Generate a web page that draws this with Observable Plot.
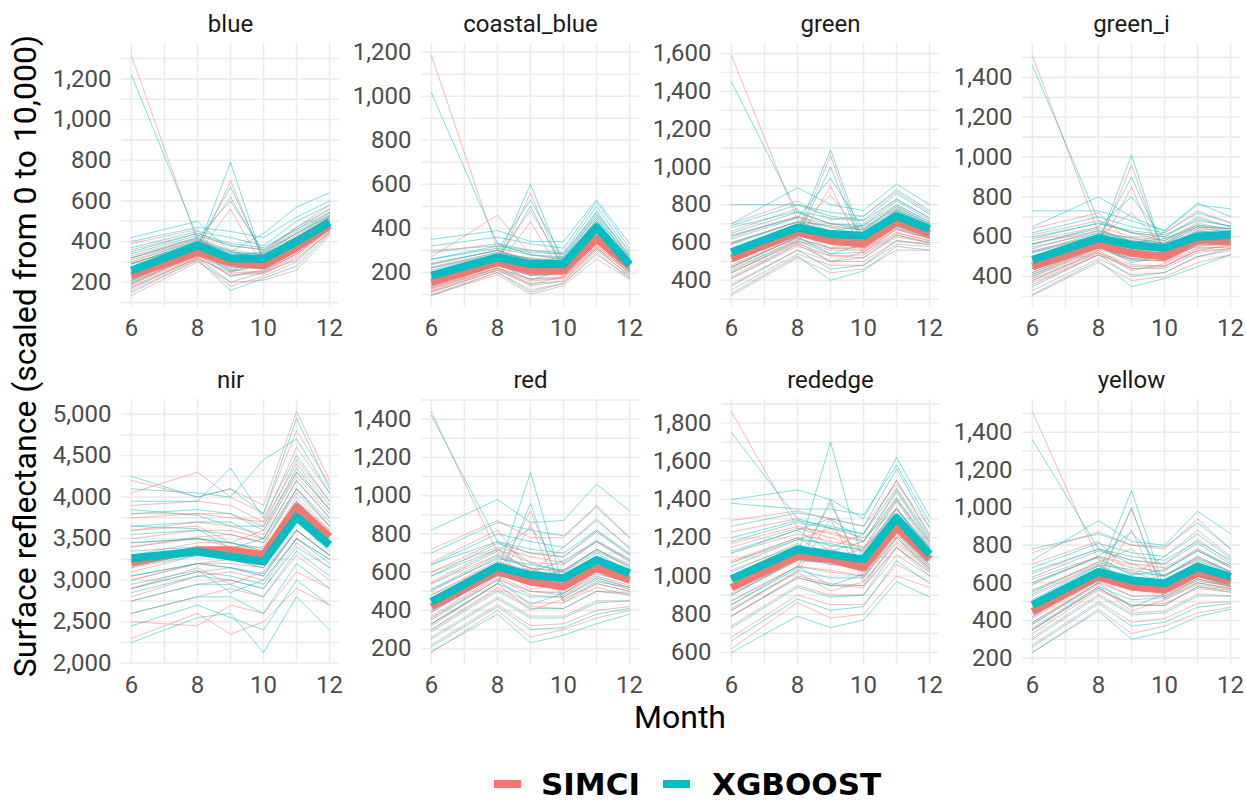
<!DOCTYPE html>
<html>
<head>
<meta charset="utf-8">
<script src="https://cdn.jsdelivr.net/npm/d3@7"></script>
<script src="https://cdn.jsdelivr.net/npm/@observablehq/plot@0.6"></script>
<style>
  body { margin: 0; background: #ffffff; }
  #wrap { position: relative; width: 1246px; height: 800px; overflow: hidden; font-family: Roboto, sans-serif; background: #ffffff; }
  #ytitle { position: absolute; left: 25px; top: 356px; transform: translate(-50%, -50%) rotate(-90deg); white-space: nowrap; font-size: 32px; line-height: 1; color: #000; }
  #xtitle { position: absolute; left: 680px; top: 717px; transform: translate(-50%, -50%); white-space: nowrap; font-size: 32px; line-height: 1; color: #000; }
  .sw { position: absolute; height: 8px; width: 27px; top: 780px; }
  .lg { position: absolute; top: 784px; transform: translateY(-50%); font-family: "DejaVu Sans", sans-serif; font-weight: bold; font-size: 31px; line-height: 1; color: #000; white-space: nowrap; }
</style>
</head>
<body>
<div id="wrap"></div>
<script>
// ---------------- data ----------------
const months = [6, 8, 9, 10, 11, 12];
const models = ["SIMCI", "XGBOOST"];
const modelColors = ["#F8766D", "#00BFC4"];
const bands = ["blue", "coastal_blue", "green", "green_i", "nir", "red", "rededge", "yellow"];

// blue
const blueMeanSIMCI = [233, 348, 297, 282, 370, 480];
const blueMeanXGB   = [258, 381, 318, 315, 400, 495];
const bluePixSIMCI = [
  [1315,400,330,300,390,500],[135,300,200,210,260,430],[160,310,180,230,300,450],[180,320,240,240,320,440],
  [200,330,260,250,340,460],[210,340,560,270,350,470],[220,350,290,280,360,470],[230,345,700,300,380,490],
  [240,360,310,290,380,480],[250,370,280,300,400,500],[270,380,320,310,410,510],[290,390,620,330,420,520],
  [310,400,350,320,430,530],[330,420,300,340,440,540],[360,440,380,360,460,560],[390,460,250,350,470,580],
  [175,315,250,245,330,455],[205,330,275,265,350,465],[265,365,330,300,390,495],[295,385,300,320,410,505],
  [190,325,230,255,340,460],[320,405,360,335,425,520]
];
const bluePixXGB = [
  [1220,420,350,320,420,520],[150,310,160,220,280,440],[170,320,200,250,310,450],[190,340,230,260,340,460],
  [210,350,260,280,360,470],[230,360,790,300,380,490],[250,370,290,300,390,490],[260,380,670,320,400,500],
  [270,390,330,320,410,510],[290,400,300,330,420,520],[300,410,340,340,440,530],[320,420,600,350,450,540],
  [340,430,380,360,470,560],[370,450,420,380,500,580],[400,470,450,420,520,600],[420,500,350,440,570,640],
  [195,345,270,280,360,470],[225,360,295,300,380,485],[290,400,350,335,420,510],[320,415,330,350,440,525],
  [210,350,250,290,370,475],[350,440,390,370,460,545]
];

// coastal_blue
const coastalMeanSIMCI = [155, 245, 208, 208, 352, 230];
const coastalMeanXGB   = [185, 268, 238, 238, 405, 235];
const coastalPixSIMCI = [
  [1185,300,250,230,380,240],[95,190,100,140,260,170],[100,200,120,150,280,180],[110,210,150,160,300,190],
  [120,220,170,170,310,200],[130,230,430,180,320,210],[140,235,190,190,330,215],[150,240,560,200,340,220],
  [160,250,210,210,350,230],[170,255,200,215,360,235],[180,260,230,220,370,240],[200,270,480,230,390,250],
  [220,280,240,240,400,260],[240,300,260,250,420,270],[270,460,280,260,440,280],[300,320,300,280,460,300],
  [115,215,160,175,310,200],[135,230,185,190,330,215],[175,260,235,225,375,245],[200,275,215,240,395,255],
  [125,220,145,180,320,205],[225,290,260,250,410,265]
];
const coastalPixXGB = [
  [1015,330,280,260,430,250],[95,200,110,150,290,170],[110,210,140,160,310,180],[130,220,170,180,340,190],
  [150,240,190,200,360,210],[160,250,500,210,380,220],[170,255,220,220,390,225],[180,260,600,230,400,230],
  [190,270,240,235,410,235],[200,280,230,240,420,240],[220,290,260,250,440,250],[240,300,530,260,460,260],
  [260,310,280,270,480,270],[290,330,300,290,500,290],[320,360,330,310,520,310],[350,390,340,340,530,330],
  [140,235,185,200,360,205],[165,250,210,220,385,220],[210,285,265,255,430,250],[235,300,245,270,450,260],
  [150,240,165,210,370,210],[260,320,290,285,470,275]
];

// green
const greenMeanSIMCI = [514, 654, 610, 593, 707, 645];
const greenMeanXGB   = [549, 680, 645, 636, 741, 672];
const greenPixSIMCI = [
  [1590,720,680,640,760,680],[320,520,440,460,560,560],[350,540,480,480,590,580],[380,560,500,500,610,590],
  [410,580,530,520,630,600],[440,600,900,540,650,610],[460,610,560,560,670,620],[480,630,1060,570,690,630],
  [500,640,590,580,700,640],[520,650,570,600,710,650],[540,670,620,610,730,660],[570,690,850,630,750,670],
  [600,710,650,650,770,690],[630,740,680,670,800,710],[660,780,600,700,830,730],[700,820,720,740,870,760],
  [420,595,530,535,640,600],[470,625,570,565,675,625],[560,685,650,620,740,665],[600,710,620,645,765,680],
  [440,605,500,550,655,610],[640,735,700,670,790,700]
];
const greenPixXGB = [
  [1450,760,700,680,780,700],[330,530,400,450,580,560],[370,560,460,480,610,590],[410,590,500,520,640,600],
  [440,610,540,550,670,620],[470,630,1000,570,690,630],[500,650,600,590,710,645],[520,660,1090,600,720,650],
  [540,670,630,610,730,660],[560,690,610,630,750,670],[590,710,660,650,770,690],[620,730,940,670,790,700],
  [650,760,700,690,820,720],[690,800,740,720,860,750],[800,800,760,740,880,770],[700,890,800,770,910,800],
  [450,620,570,575,680,625],[500,650,610,605,710,650],[595,710,690,665,775,695],[635,735,660,690,800,710],
  [470,630,540,590,690,635],[680,765,730,715,830,730]
];

// green_i
const greeniMeanSIMCI = [450, 559, 518, 500, 584, 576];
const greeniMeanXGB   = [484, 593, 559, 543, 601, 610];
const greeniPixSIMCI = [
  [1510,620,560,540,620,600],[305,470,380,400,470,510],[330,490,410,420,500,530],[360,510,440,440,520,540],
  [380,520,460,450,540,550],[400,530,850,470,560,560],[420,545,490,480,570,565],[440,555,960,495,580,570],
  [460,565,520,505,590,580],[480,575,500,515,600,585],[500,590,540,530,615,595],[520,600,720,545,630,605],
  [550,620,580,560,650,615],[580,650,600,580,670,630],[610,680,620,600,700,650],[640,720,560,620,730,670],
  [370,510,450,455,530,540],[410,535,485,478,558,558],[490,585,550,522,610,592],[530,605,525,545,635,605],
  [390,520,430,465,545,548],[565,630,590,568,660,620]
];
const greeniPixXGB = [
  [1460,680,620,580,650,640],[310,480,350,390,450,510],[350,510,400,420,500,540],[380,530,440,450,530,560],
  [410,550,480,480,560,580],[440,570,1010,500,580,590],[460,580,530,520,590,600],[480,590,900,530,600,605],
  [500,600,560,545,610,610],[520,610,540,555,620,620],[540,630,580,570,640,630],[560,650,800,590,660,640],
  [590,670,620,600,690,650],[620,700,650,620,720,670],[730,730,680,630,760,740],[650,800,700,630,770,700],
  [400,545,490,495,550,570],[440,570,525,520,578,590],[525,618,595,565,625,628],[565,640,570,590,650,642],
  [420,555,470,505,565,580],[600,665,630,610,680,655]
];

// nir
const nirMeanSIMCI = [3205, 3364, 3364, 3304, 3883, 3523];
const nirMeanXGB   = [3265, 3344, 3284, 3224, 3763, 3424];
const nirPixSIMCI = [
  [2300,2600,2350,2500,2900,2700],[2500,2450,2700,2600,3100,2900],[2600,2800,2900,2800,3300,3000],[2750,2950,3000,2900,3450,3150],
  [2900,3100,3150,3050,3600,3300],[3000,3200,3250,3150,3700,3400],[3100,3300,3350,3250,3800,3450],[3200,3350,3300,3300,3900,3550],
  [3300,3450,3450,3350,4000,3600],[3400,3500,3400,3400,4100,3650],[3500,3600,3600,3500,4200,3750],[3600,3700,3650,3550,4300,3850],
  [3750,3800,3800,3650,4450,3950],[3900,3950,3900,3700,4600,4050],[4050,4300,4000,3800,4800,4150],[4200,4000,4100,3900,5030,4200],
  [2800,3050,3100,3000,3500,3250],[3000,3200,3200,3150,3700,3400],[3400,3520,3550,3450,4100,3650],[3600,3650,3450,3600,4250,3800],
  [2900,3150,2950,3100,3600,3300],[3800,3800,3750,3700,4400,3900]
];
const nirPixXGB = [
  [2250,2550,2600,2130,2800,2400],[2450,2700,2550,2400,3000,2700],[2600,2800,2800,2600,3200,2900],[2750,2950,2950,2800,3350,3050],
  [2900,3100,3050,2950,3500,3200],[3050,3200,3150,3050,3600,3300],[3150,3300,3250,3150,3700,3350],[3250,3350,3300,3200,3800,3450],
  [3350,3400,3350,3300,3850,3500],[3450,3500,3450,3350,3950,3600],[3550,3600,3550,3450,4050,3650],[3650,3700,3700,3500,4200,3750],
  [3800,3850,3800,3600,4350,3850],[3950,3950,4350,3750,4500,3950],[4100,4050,4000,4450,4700,4050],[4250,4000,4100,3800,4950,4100],
  [2850,3050,3000,2900,3400,3150],[3050,3200,3150,3080,3600,3300],[3450,3500,3450,3380,3950,3550],[3650,3620,3380,3500,4100,3700],
  [2950,3120,2850,3000,3500,3250],[3850,3780,3650,3650,4300,3850]
];

// red
const redMeanSIMCI = [419, 603, 550, 524, 620, 559];
const redMeanXGB   = [445, 629, 585, 568, 664, 594];
const redPixSIMCI = [
  [1440,700,620,560,650,580],[180,400,260,300,360,400],[220,430,320,330,400,420],[260,470,370,370,450,450],
  [300,510,420,410,500,480],[330,540,850,440,540,500],[360,570,480,470,570,520],[390,590,920,490,600,540],
  [420,610,540,520,620,560],[450,630,510,540,650,580],[480,660,580,570,680,600],[510,690,620,600,720,620],
  [550,720,650,640,760,650],[600,760,700,680,820,690],[650,820,600,730,880,720],[720,870,780,780,950,780],
  [300,520,440,440,520,480],[360,560,500,480,570,520],[480,650,610,570,680,600],[540,690,560,610,720,630],
  [330,540,400,460,540,500],[600,730,680,650,770,660]
];
const redPixXGB = [
  [1420,760,650,600,700,600],[185,380,230,270,330,380],[210,420,300,310,380,410],[250,460,360,360,440,450],
  [290,500,410,410,500,490],[330,540,960,450,550,520],[370,580,500,490,590,550],[400,600,1120,520,620,570],
  [430,620,570,550,650,590],[460,650,540,580,680,610],[500,680,620,610,720,640],[540,710,830,640,760,660],
  [580,750,700,680,810,690],[640,800,760,730,870,730],[700,860,820,790,940,780],[820,980,860,870,1060,920],
  [320,540,470,470,560,510],[390,590,530,520,620,555],[510,670,640,610,710,630],[580,720,600,660,760,670],
  [350,560,430,490,580,530],[640,760,720,700,820,700]
];

// rededge
const rededgeMeanSIMCI = [939, 1104, 1087, 1043, 1252, 1087];
const rededgeMeanXGB   = [983, 1139, 1113, 1087, 1304, 1113];
const rededgePixSIMCI = [
  [1860,1250,1200,1150,1300,1100],[620,860,780,800,1000,940],[680,900,850,850,1060,970],[740,950,900,900,1110,1000],
  [790,990,950,940,1150,1020],[830,1020,1300,970,1180,1040],[870,1050,1020,1000,1210,1060],[910,1080,1380,1020,1240,1080],
  [950,1110,1080,1040,1260,1090],[990,1130,1060,1060,1290,1100],[1030,1160,1120,1090,1320,1120],[1070,1190,1250,1120,1360,1140],
  [1120,1220,1180,1150,1400,1160],[1170,1260,1220,1180,1450,1190],[1230,1300,1150,1220,1500,1220],[1290,1340,1300,1260,1480,1260],
  [790,1000,960,950,1150,1020],[870,1050,1030,1000,1200,1050],[1000,1150,1140,1090,1300,1120],[1080,1200,1100,1140,1350,1150],
  [820,1020,920,970,1170,1030],[1150,1250,1230,1180,1400,1180]
];
const rededgePixXGB = [
  [1750,1300,1250,1200,1350,1150],[600,790,730,770,970,890],[660,880,820,840,1080,960],[730,940,890,900,1150,1000],
  [790,990,950,950,1200,1030],[850,1040,1400,990,1240,1060],[900,1080,1070,1030,1270,1090],[940,1110,1700,1060,1300,1100],
  [980,1140,1110,1080,1320,1110],[1020,1170,1090,1110,1350,1130],[1070,1200,1160,1140,1390,1150],[1120,1240,1300,1180,1440,1180],
  [1180,1280,1250,1220,1500,1210],[1260,1330,1300,1260,1560,1250],[1400,1450,1400,1300,1620,1310],[1380,1350,1350,1320,1580,1280],
  [820,1030,990,990,1200,1040],[900,1090,1060,1040,1260,1080],[1050,1190,1170,1130,1350,1140],[1130,1240,1130,1180,1410,1170],
  [850,1050,950,1010,1220,1050],[1200,1290,1260,1220,1460,1200]
];

// yellow
const yellowMeanSIMCI = [447, 632, 579, 562, 650, 605];
const yellowMeanXGB   = [482, 658, 614, 597, 685, 632];
const yellowPixSIMCI = [
  [1510,720,660,600,690,630],[230,460,330,370,440,470],[270,500,390,410,490,500],[310,540,440,450,540,530],
  [350,570,480,480,580,550],[380,590,880,510,600,570],[410,610,530,530,620,580],[440,630,990,550,640,600],
  [470,650,580,570,660,610],[500,670,560,590,680,620],[530,690,620,610,710,640],[560,710,780,630,740,660],
  [600,740,680,660,780,680],[650,780,720,700,830,710],[700,820,640,740,880,740],[760,870,800,780,940,780],
  [330,560,480,490,570,550],[390,600,530,530,610,580],[500,665,630,600,690,630],[560,700,600,640,730,655],
  [360,580,450,510,590,565],[620,740,700,680,780,690]
];
const yellowPixXGB = [
  [1360,780,700,640,720,650],[230,450,300,340,420,460],[260,490,370,390,470,490],[300,530,430,440,530,530],
  [350,570,480,480,580,560],[390,600,1000,520,620,580],[420,630,560,550,650,600],[450,650,1090,570,670,610],
  [480,670,610,590,690,625],[510,690,590,610,710,640],[550,710,650,640,740,660],[590,740,870,670,770,680],
  [630,770,720,700,810,700],[680,810,760,740,860,730],[780,860,800,790,920,780],[720,930,820,800,980,860],
  [350,580,510,520,600,570],[420,620,570,560,645,605],[540,695,670,635,730,660],[600,735,640,670,770,690],
  [380,600,470,540,620,585],[660,780,740,720,820,720]
];

// ---------------- assemble ----------------
const panelData = [
  [blueMeanSIMCI, blueMeanXGB, bluePixSIMCI, bluePixXGB],
  [coastalMeanSIMCI, coastalMeanXGB, coastalPixSIMCI, coastalPixXGB],
  [greenMeanSIMCI, greenMeanXGB, greenPixSIMCI, greenPixXGB],
  [greeniMeanSIMCI, greeniMeanXGB, greeniPixSIMCI, greeniPixXGB],
  [nirMeanSIMCI, nirMeanXGB, nirPixSIMCI, nirPixXGB],
  [redMeanSIMCI, redMeanXGB, redPixSIMCI, redPixXGB],
  [rededgeMeanSIMCI, rededgeMeanXGB, rededgePixSIMCI, rededgePixXGB],
  [yellowMeanSIMCI, yellowMeanXGB, yellowPixSIMCI, yellowPixXGB]
];

function toRows(vals, model, id) {
  return vals.map((v, j) => ({ id, model, month: months[j], value: v }));
}

// layout
const colLeft = [121, 421, 721, 1022];
const rowTop = [43, 399];
const panelW = 218;
const panelH = [264, 265];
const ML = 90, MR = 10, MT = 43, MB = 45;

const wrap = document.getElementById("wrap");

panelData.forEach(([mS, mX, pS, pX], i) => {
  const col = i % 4, row = Math.floor(i / 4);
  const thin = [];
  const n = Math.max(pS.length, pX.length);
  for (let k = 0; k < n; k++) {
    if (pS[k]) thin.push(...toRows(pS[k], "SIMCI", "S" + k));
    if (pX[k]) thin.push(...toRows(pX[k], "XGBOOST", "X" + k));
  }
  const meanS = toRows(mS, "SIMCI", "mS");
  const meanX = toRows(mX, "XGBOOST", "mX");
  const all = thin.concat(meanS, meanX);
  const [lo, hi] = d3.extent(all, d => d.value);
  const pad = (hi - lo) * 0.05;
  const d0 = lo - pad, d1 = hi + pad;
  const ticks = d3.ticks(d0, d1, 6);
  const step = ticks[1] - ticks[0];
  const half = step / 2;
  const hgrid = d3.range(Math.ceil(d0 / half) * half, d1 + 1e-9, half);

  const svg = Plot.plot({
    width: ML + panelW + MR,
    height: MT + panelH[row] + MB,
    marginLeft: ML,
    marginRight: MR,
    marginTop: MT,
    marginBottom: MB,
    style: { background: "transparent", fontFamily: "Roboto, sans-serif", fontSize: "24px", color: "#4d4d4d", overflow: "visible" },
    x: { domain: [5.7, 12.3] },
    y: { domain: [d0, d1] },
    color: { domain: models, range: modelColors },
    marks: [
      Plot.ruleY(hgrid, { stroke: "#ebebeb", strokeWidth: 1.6 }),
      Plot.ruleX([6, 7, 8, 9, 10, 11, 12], { stroke: "#ebebeb", strokeWidth: 1.6 }),
      Plot.line(thin, { x: "month", y: "value", z: "id", stroke: "model", strokeWidth: 1.0, strokeOpacity: 0.5, curve: "linear" }),
      Plot.line(meanS, { x: "month", y: "value", stroke: "model", strokeWidth: 7.5, strokeLinecap: "butt", strokeLinejoin: "round" }),
      Plot.line(meanX, { x: "month", y: "value", stroke: "model", strokeWidth: 8, strokeLinecap: "butt", strokeLinejoin: "round" }),
      Plot.axisX({ ticks: [6, 8, 10, 12], tickSize: 0, tickPadding: 11, tickFormat: d => String(d), fontSize: 24, fill: "#4d4d4d", label: null }),
      Plot.axisY({ ticks, tickSize: 0, tickPadding: 10, tickFormat: d3.format(","), fontSize: 24, fill: "#4d4d4d", label: null }),
      Plot.text([bands[i]], { frameAnchor: "top", dy: -19, fontSize: 24, fill: "#1a1a1a", lineAnchor: "middle", text: d => d })
    ]
  });
  svg.style.position = "absolute";
  svg.style.left = (colLeft[col] - ML) + "px";
  svg.style.top = (rowTop[row] - MT) + "px";
  svg.style.maxWidth = "none";
  wrap.appendChild(svg);
});

// titles
const yt = document.createElement("div");
yt.id = "ytitle";
yt.textContent = "Surface reflectance (scaled from 0 to 10,000)";
wrap.appendChild(yt);
const xt = document.createElement("div");
xt.id = "xtitle";
xt.textContent = "Month";
wrap.appendChild(xt);

// legend
const legendX = [[494, 541], [663, 712]];
models.forEach((m, k) => {
  const sw = document.createElement("div");
  sw.className = "sw";
  sw.style.left = legendX[k][0] + "px";
  sw.style.background = modelColors[k];
  wrap.appendChild(sw);
  const lg = document.createElement("div");
  lg.className = "lg";
  lg.style.left = legendX[k][1] + "px";
  lg.textContent = m;
  wrap.appendChild(lg);
});
</script>
</body>
</html>
